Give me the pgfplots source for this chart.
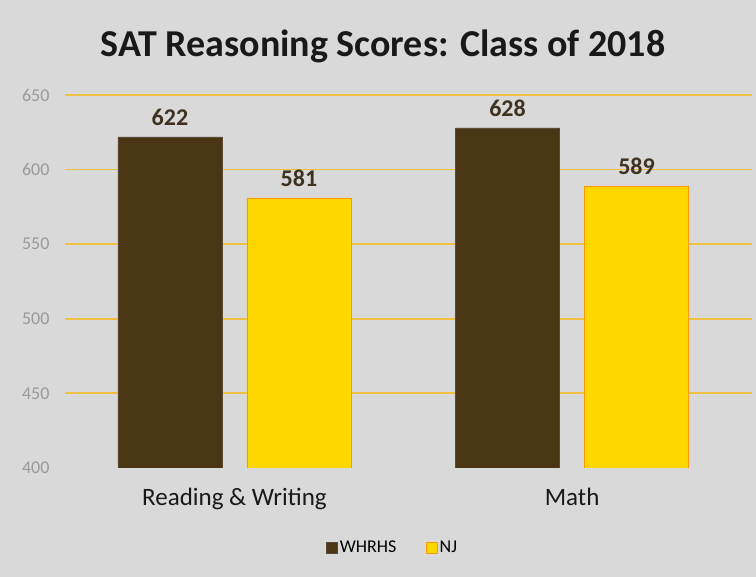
\documentclass[border=0pt]{standalone}
\usepackage{pgfplots}
\pgfplotsset{compat=1.18}
\usepackage{fontspec}
\setmainfont{Carlito}
\definecolor{bggray}{HTML}{D9D9D9}
\definecolor{brownbar}{HTML}{4A3515}
\definecolor{yellowbar}{HTML}{FFD700}
\definecolor{gridgold}{HTML}{F0C040}
\definecolor{ticgray}{HTML}{9A9A9A}
\definecolor{lblbrown}{HTML}{3F3220}
\begin{document}
\begin{tikzpicture}
\fill[bggray] (0,0) rectangle (756pt,577pt);
\node[font=\fontsize{38}{44}\selectfont\bfseries, text=black!90] at (383pt,531pt) {SAT Reasoning Scores: Class of 2018};
\begin{axis}[
  at={(65pt,109pt)}, anchor=south west,
  scale only axis, width=687pt, height=373pt,
  xmin=-0.502, xmax=1.533,
  ymin=400, ymax=650,
  ytick={450,500,550,600,650},
  extra y ticks={400}, extra y tick style={grid=none},
  xtick={0,1}, xticklabels={Reading \& Writing, Math},
  axis line style={draw=none},
  major tick length=0pt,
  ymajorgrids, grid style={gridgold, line width=1.8pt},
  /pgf/number format/assume math mode=true,
  yticklabel style={font=\fontsize{18}{21}\selectfont, text=ticgray, xshift=-12pt},
  xticklabel style={font=\fontsize{25}{30}\selectfont, text=black!90, yshift=-17pt},
  ybar=25pt, bar width=104pt,
  nodes near coords,
  every node near coord/.append style={font=\fontsize{24}{28}\selectfont\bfseries, text=lblbrown, yshift=8pt},
  legend style={at={(0.477,-0.214)}, anchor=center, draw=none, fill=none, legend columns=2,
    font=\fontsize{18}{21}\selectfont, /tikz/every even column/.append style={column sep=28pt}},
  legend image code/.code={\draw[#1] (0pt,-5.5pt) rectangle (11pt,5.5pt);},
]
\addplot[fill=brownbar, draw=brownbar!70!gray] coordinates {(0,622) (1,628)};
\addplot[fill=yellowbar, draw=orange!80!yellow] coordinates {(0,581) (1,589)};
\legend{WHRHS, NJ}
\end{axis}
\end{tikzpicture}
\end{document}
